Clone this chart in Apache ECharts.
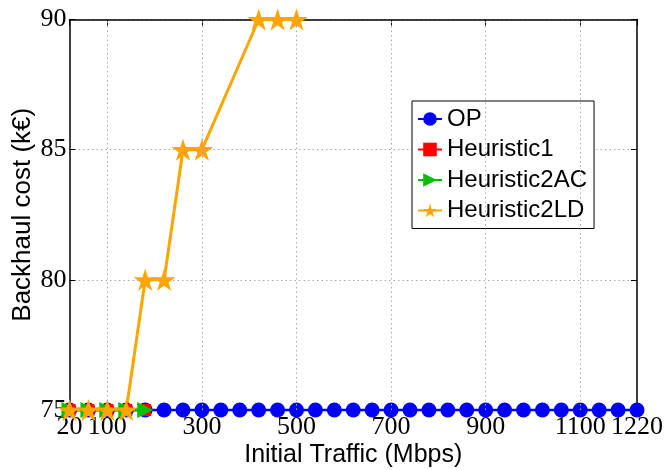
<!DOCTYPE html>
<html>
<head>
<meta charset="utf-8">
<script src="https://cdn.jsdelivr.net/npm/echarts@6/dist/echarts.min.js"></script>
<style>html,body{margin:0;padding:0;background:#fff}#c{width:665px;height:470px}</style>
</head>
<body>
<div id="c"></div>
<script>
// ---- data ----
var opX = [20,60,100,140,180,220,260,300,340,380,420,460,500,540,580,620,660,700,740,780,820,860,900,940,980,1020,1060,1100,1140,1180,1220];
var opY = [75,75,75,75,75,75,75,75,75,75,75,75,75,75,75,75,75,75,75,75,75,75,75,75,75,75,75,75,75,75,75];
var h1X = [20,60,100,140,180];
var h1Y = [75,75,75,75,75];
var h2acX = [20,60,100,140,180];
var h2acY = [75,75,75,75,75];
var h2ldX = [20,60,100,140,180,220,260,300,420,460,500];
var h2ldY = [75,75,75,75,80,80,85,85,90,90,90];
var xTicks = [20,100,300,500,700,900,1100,1220];
var xGrid = [100,300,500,700,900,1100];
var yTicks = [75,80,85,90];
var names = ['OP','Heuristic1','Heuristic2AC','Heuristic2LD'];

function pairs(xs, ys){ return xs.map(function(x,i){ return [x, ys[i]]; }); }

var star = 'path://M50,0 L61.2,34.5 L97.6,34.5 L68.2,55.9 L79.4,90.5 L50,69.1 L20.6,90.5 L31.8,55.9 L2.4,34.5 L38.8,34.5 Z';
var serif = '"Liberation Serif", "DejaVu Serif", serif';
var sans = '"Liberation Sans", Arial, sans-serif';

var chart = echarts.init(document.getElementById('c'), null, {renderer:'canvas'});
chart.setOption({
  animation: false,
  backgroundColor: '#fff',
  grid: {left: 69.5, right: 28, top: 19.5, bottom: 60, show: false, containLabel: false, outerBoundsMode: 'none'},
  legend: {
    data: names,
    orient: 'vertical',
    left: 412, top: 101,
    padding: [6, 7, 6, 5],
    itemGap: 6.5,
    itemWidth: 24, itemHeight: 17,
    backgroundColor: '#fff',
    borderColor: '#000', borderWidth: 1,
    textStyle: {fontFamily: sans, fontSize: 24, color: '#000', lineHeight: 24}
  },
  xAxis: [{
    type: 'value', min: 20, max: 1220, position: 'bottom',
    axisLine: {show: true, onZero: false, lineStyle: {color: '#000', width: 1.5}},
    axisTick: {show: true, inside: true, length: 6, customValues: xTicks, lineStyle: {color: '#000', width: 1}},
    axisLabel: {show: true, customValues: xTicks, margin: 4, fontFamily: serif, fontSize: 26, color: '#000', hideOverlap: false, showMinLabel: true, showMaxLabel: true,
      formatter: function(v){ return String(v); }},
    splitLine: {show: false},
    name: 'Initial Traffic (Mbps)', nameLocation: 'middle', nameGap: 33, nameMoveOverlap: false,
    nameTextStyle: {fontFamily: sans, fontSize: 25, color: '#000'}
  },{
    type: 'value', min: 20, max: 1220, position: 'top',
    axisLine: {show: true, onZero: false, lineStyle: {color: '#000', width: 1.5}},
    axisTick: {show: true, inside: true, length: 6, customValues: xTicks, lineStyle: {color: '#000', width: 1}},
    axisLabel: {show: false},
    splitLine: {show: false}
  }],
  yAxis: [{
    type: 'value', min: 75, max: 90, interval: 5, position: 'left',
    axisLine: {show: true, onZero: false, lineStyle: {color: '#000', width: 1.5}},
    axisTick: {show: true, inside: true, length: 6, lineStyle: {color: '#000', width: 1}},
    axisLabel: {show: true, margin: 3, fontFamily: serif, fontSize: 26, color: '#000',
      formatter: function(v){ return yTicks.indexOf(v) >= 0 ? String(v) : ''; }},
    splitLine: {show: true, lineStyle: {color: '#aaa', type: [1.5, 3], width: 1}},
    name: 'Backhaul cost (k€)', nameLocation: 'middle', nameGap: 34, nameMoveOverlap: false,
    nameTextStyle: {fontFamily: sans, fontSize: 26, color: '#000'}
  },{
    type: 'value', min: 75, max: 90, interval: 5, position: 'right',
    axisLine: {show: true, onZero: false, lineStyle: {color: '#000', width: 1.5}},
    axisTick: {show: true, inside: true, length: 6, lineStyle: {color: '#000', width: 1}},
    axisLabel: {show: false},
    splitLine: {show: false}
  }],
  series: [
    {
      name: 'gridx', type: 'line', data: [], silent: true, z: 0,
      markLine: {
        silent: true, symbol: ['none','none'], label: {show: false},
        lineStyle: {color: '#aaa', type: [1.5, 3], width: 1},
        data: xGrid.map(function(v){ return {xAxis: v}; })
      }
    },
    {
      name: 'OP', type: 'line', data: pairs(opX, opY), clip: false,
      symbol: 'circle', symbolSize: 15,
      itemStyle: {color: '#0000ff'}, lineStyle: {color: '#0000ff', width: 2.5}
    },
    {
      name: 'Heuristic1', type: 'line', data: pairs(h1X, h1Y), clip: false,
      symbol: 'rect', symbolSize: 12,
      itemStyle: {color: '#ff0000'}, lineStyle: {color: '#ff0000', width: 2.5}
    },
    {
      name: 'Heuristic2AC', type: 'line', data: pairs(h2acX, h2acY), clip: false,
      symbol: 'triangle', symbolSize: 16, symbolRotate: -90,
      itemStyle: {color: '#00c000'}, lineStyle: {color: '#00c000', width: 2.5}
    },
    {
      name: 'Heuristic2LD', type: 'line', data: pairs(h2ldX, h2ldY), clip: false,
      symbol: star, symbolSize: [23, 22],
      itemStyle: {color: '#ffa500'}, lineStyle: {color: '#ffa500', width: 3}
    }
  ]
});
</script>
</body>
</html>
